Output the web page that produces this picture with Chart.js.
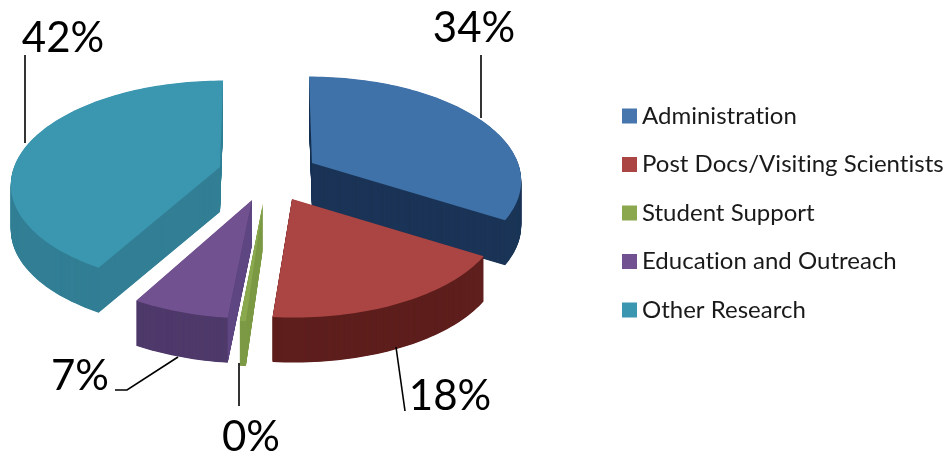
<!DOCTYPE html>
<html><head><meta charset="utf-8">
<style>html,body{margin:0;padding:0;background:#fff}canvas{display:block}</style>
<script src="https://cdn.jsdelivr.net/npm/chart.js@4"></script>
</head><body>
<canvas id="c" width="949" height="458"></canvas>
<script>
const categories = ['Administration','Post Docs/Visiting Scientists','Student Support','Education and Outreach','Other Research'];
const values = [33.9, 17.6, 0.4, 6.5, 41.9];
const topColors = ['#3f72a9','#ab4543','#8aa84e','#71518f','#3b96b0'];
const wallColors = ['#1b3557','#5e1f1d','#7d9a46','#4f3a6b','#327f95'];
const startWallColors = [null,null,null,'#5d4682',null];
const legendColors = ['#4676ad','#ab4543','#8ca84f','#71518f','#3b96b0'];

// Layout of the exploded 3D view (not data)
const apexes = [[312,163],[292,199],[263,203],[252,200],[220,167]];
const leans = [3.5,1,3,2,-3.5];
const drawOrder = [0,4,3,2,1];
const view = {a:206, b:100, k:0.157, depth:45};
const labelBoxes = [[474,28],[450,396],[251,437],[80,376],[63,38]];
const leaders = [
  [[481,55],[481,118]],
  [[396,347],[405,411]],
  [[239,363],[239,406]],
  [[115,390],[127,390],[178,357]],
  [[25,55],[25,143]]
];

const pie3d = {
  id:'pie3d',
  afterLayout(chart){
    const lg = chart.legend, p = lg.options.labels.padding;
    lg.left = 629 - p; lg.right = 949; lg.top = 104 - p; lg.bottom = 458;
    lg.adjustHitBoxes && lg.adjustHitBoxes();
  },
  beforeDraw(chart){
    chart.ctx.letterSpacing = '0.01px';
  },
  beforeDatasetsDraw(chart){
    const ctx = chart.ctx, arcs = chart.getDatasetMeta(0).data;
    const project = (i,ang) => {
      const u = Math.cos(ang), v = Math.sin(ang), w = 1 - view.k*v;
      return [apexes[i][0] + (view.a*u + leans[i]*v)/w, apexes[i][1] + view.b*v/w];
    };
    const path = (i,dy) => {
      const s = arcs[i].startAngle, e = arcs[i].endAngle, n = Math.max(2,Math.ceil((e-s)*40));
      ctx.beginPath();
      ctx.moveTo(apexes[i][0], apexes[i][1]+dy);
      for(let t=0;t<=n;t++){
        const q = project(i, s+(e-s)*t/n);
        ctx.lineTo(q[0], q[1]+dy);
      }
      ctx.closePath();
    };
    ctx.save();
    drawOrder.forEach(i=>{
      ctx.fillStyle = wallColors[i];
      for(let d=view.depth;d>0;d-=0.5){ path(i,d); ctx.fill(); }
      if(startWallColors[i]){
        const q = project(i, arcs[i].startAngle), A = apexes[i];
        ctx.fillStyle = startWallColors[i];
        ctx.beginPath();
        ctx.moveTo(A[0],A[1]); ctx.lineTo(q[0],q[1]);
        ctx.lineTo(q[0],q[1]+view.depth); ctx.lineTo(A[0],A[1]+view.depth);
        ctx.closePath(); ctx.fill();
      }
      ctx.fillStyle = topColors[i];
      path(i,0); ctx.fill();
    });
    ctx.restore();
    return false;
  },
  afterDraw(chart){
    const ctx = chart.ctx;
    ctx.save();
    ctx.strokeStyle='#000'; ctx.lineWidth=1.6;
    leaders.forEach(l=>{
      ctx.beginPath();
      l.forEach((p,i)=> i?ctx.lineTo(p[0],p[1]):ctx.moveTo(p[0],p[1]));
      ctx.stroke();
    });
    ctx.fillStyle='#000'; ctx.font='42px Lato'; ctx.textAlign='center'; ctx.textBaseline='middle';
    values.forEach((v,i)=> ctx.fillText(Math.round(v)+'%', labelBoxes[i][0], labelBoxes[i][1]));
    ctx.restore();
  }
};

new Chart(document.getElementById('c'),{
  type:'pie',
  data:{labels:categories,datasets:[{data:values,backgroundColor:legendColors,borderWidth:0}]},
  options:{
    responsive:false,animation:false,devicePixelRatio:1,
    plugins:{
      tooltip:{enabled:false},
      legend:{
        position:'right',align:'start',
        labels:{
          boxWidth:1,boxHeight:1,padding:24.5,color:'#1a1a1a',
          font:{family:'Lato',size:24},
          generateLabels(chart){
            return Chart.overrides.pie.plugins.legend.labels.generateLabels(chart).map((it,i)=>
              Object.assign(it,{lineWidth:14,strokeStyle:legendColors[i],fillStyle:legendColors[i],lineJoin:'miter'}));
          }
        }
      }
    }
  },
  plugins:[pie3d]
});
</script>
</body></html>
